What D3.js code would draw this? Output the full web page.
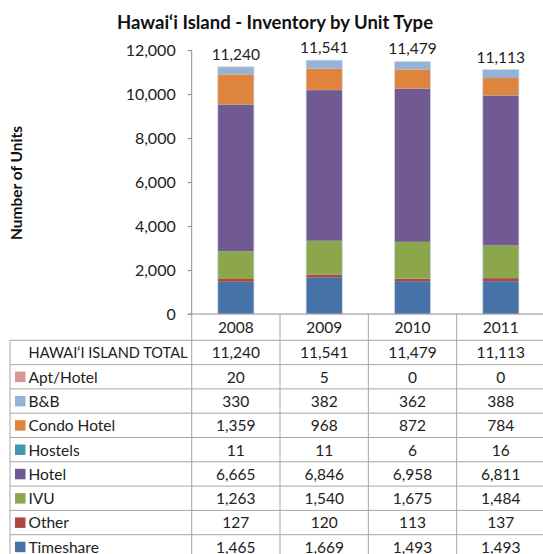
<!DOCTYPE html>
<html>
<head>
<meta charset="utf-8">
<script src="https://cdn.jsdelivr.net/npm/d3@7"></script>
<style>
  body { margin: 0; background: #fff; }
  svg { display: block; font-family: Lato, "Open Sans", sans-serif; }
</style>
</head>
<body>
<svg id="chart" width="543" height="554"></svg>
<script>
// data
var years = ["2008", "2009", "2010", "2011"];
var unitTypes = ["Apt/Hotel", "B&B", "Condo Hotel", "Hostels", "Hotel", "IVU", "Other", "Timeshare"];
var typeColors = ["#D99694", "#95B3D7", "#DE843D", "#4298B1", "#715A91", "#8BA64B", "#B04642", "#4572A7"];
var aptHotel = [20, 5, 0, 0];
var bnb = [330, 382, 362, 388];
var condoHotel = [1359, 968, 872, 784];
var hostels = [11, 11, 6, 16];
var hotel = [6665, 6846, 6958, 6811];
var ivu = [1263, 1540, 1675, 1484];
var other = [127, 120, 113, 137];
var timeshare = [1465, 1669, 1493, 1493];
var totals = [11240, 11541, 11479, 11113];
var yTicks = [0, 2000, 4000, 6000, 8000, 10000, 12000];
var totalLabel = "HAWAI\u2018I ISLAND TOTAL";

var seriesValues = [aptHotel, bnb, condoHotel, hostels, hotel, ivu, other, timeshare];

var svg = d3.select('#chart');
var fmt = d3.format(',');

var plotLeft = 191.7, plotRight = 545, plotTop = 50, plotBottom = 314;
var tableLeft = 10, rowH = 24.3, headerBottom = 340.3;

var x = d3.scaleBand().domain(years).range([plotLeft, plotRight]).padding(0);
var y = d3.scaleLinear().domain([0, 12000]).range([plotBottom, plotTop]);
var color = d3.scaleOrdinal().domain(unitTypes).range(typeColors);

// rows for the stack, one object per year
var rows = years.map(function(yr, i) {
    var r = { year: yr };
    unitTypes.forEach(function(t, k) { r[t] = seriesValues[k][i]; });
    return r;
});

// stacked bottom-up: timeshare first
var stack = d3.stack().keys(unitTypes.slice().reverse());
var layers = stack(rows);

var barW = x.bandwidth() * 0.41;

svg.append('g').selectAll('g')
    .data(layers)
    .enter().append('g')
    .attr('fill', function(d) { return color(d.key); })
    .selectAll('rect')
    .data(function(d) { return d; })
    .enter().append('rect')
    .attr('x', function(d) { return x(d.data.year) + (x.bandwidth() - barW) / 2; })
    .attr('y', function(d) { return y(d[1]); })
    .attr('width', barW)
    .attr('height', function(d) { return y(d[0]) - y(d[1]); });

// faint outline round each bar
svg.append('g').selectAll('rect')
    .data(rows)
    .enter().append('rect')
    .attr('x', function(d) { return x(d.year) + (x.bandwidth() - barW) / 2; })
    .attr('y', function(d, i) { return y(totals[i]); })
    .attr('width', barW)
    .attr('height', function(d, i) { return y(0) - y(totals[i]); })
    .attr('fill', 'none')
    .attr('stroke', '#D6DAEA')
    .attr('stroke-width', 0.8);

// totals above bars
svg.append('g').selectAll('text')
    .data(totals)
    .enter().append('text')
    .attr('x', function(d, i) { return x(years[i]) + x.bandwidth() / 2; })
    .attr('y', function(d) { return y(d) - 7; })
    .attr('text-anchor', 'middle')
    .attr('font-size', 15.5)
    .attr('fill', '#222')
    .text(function(d) { return fmt(d); });

// y axis
var yAxis = d3.axisLeft(y).tickValues(yTicks).tickFormat(fmt).tickSize(4).tickPadding(12);
var gy = svg.append('g').attr('transform', 'translate(' + plotLeft + ',0)').call(yAxis);
gy.select('.domain').attr('stroke', '#8c8c8c').attr('d', 'M0,' + plotTop + 'V' + plotBottom);
gy.selectAll('.tick line').attr('stroke', '#8c8c8c');
gy.selectAll('.tick text').attr('font-size', 16).attr('fill', '#222').attr('font-family', 'Lato, sans-serif');

// baseline
svg.append('line')
    .attr('x1', plotLeft - 4).attr('x2', plotRight)
    .attr('y1', y(0)).attr('y2', y(0))
    .attr('stroke', '#8c8c8c');

// data table
var tableRows = [totalLabel].concat(unitTypes);
var tableData = [totals].concat(seriesValues);
var tableBottom = headerBottom + rowH * tableRows.length;
var grid = svg.append('g').attr('stroke', '#a6a6a6').attr('stroke-width', 1);

// column separators
grid.selectAll('.vcol')
    .data(years.concat(['end']))
    .enter().append('line')
    .attr('x1', function(d, i) { return plotLeft + i * x.bandwidth(); })
    .attr('x2', function(d, i) { return plotLeft + i * x.bandwidth(); })
    .attr('y1', plotBottom).attr('y2', tableBottom);

grid.append('line')
    .attr('x1', tableLeft).attr('x2', tableLeft)
    .attr('y1', headerBottom).attr('y2', tableBottom);

grid.selectAll('.hrow')
    .data(d3.range(tableRows.length + 1))
    .enter().append('line')
    .attr('x1', tableLeft).attr('x2', plotRight)
    .attr('y1', function(d) { return headerBottom + d * rowH; })
    .attr('y2', function(d) { return headerBottom + d * rowH; });

// year headers
svg.append('g').selectAll('text')
    .data(years)
    .enter().append('text')
    .attr('x', function(d) { return x(d) + x.bandwidth() / 2; })
    .attr('y', plotBottom + 18.5)
    .attr('text-anchor', 'middle')
    .attr('font-size', 15.5)
    .attr('fill', '#222')
    .text(function(d) { return d; });

// row labels with swatches
var rowG = svg.append('g').selectAll('g')
    .data(tableRows)
    .enter().append('g')
    .attr('transform', function(d, i) { return 'translate(0,' + (headerBottom + i * rowH) + ')'; });

rowG.filter(function(d, i) { return i > 0; })
    .append('rect')
    .attr('x', 15).attr('y', 7)
    .attr('width', 10.5).attr('height', 10.5)
    .attr('fill', function(d) { return color(d); });

rowG.append('text')
    .attr('x', 28.5)
    .attr('y', 18)
    .attr('font-size', 15.5)
    .attr('fill', '#222')
    .attr('textLength', function(d, i) { return i === 0 ? 159 : null; })
    .attr('lengthAdjust', 'spacingAndGlyphs')
    .text(function(d) { return d; });

// cell values
rowG.each(function(d, i) {
    d3.select(this).selectAll('.val')
        .data(tableData[i])
        .enter().append('text')
        .attr('x', function(v, j) { return x(years[j]) + x.bandwidth() / 2; })
        .attr('y', 18)
        .attr('text-anchor', 'middle')
        .attr('font-size', 15.5)
        .attr('fill', '#222')
        .text(function(v) { return fmt(v); });
});

// titles
svg.append('text')
    .attr('x', 275).attr('y', 29)
    .attr('text-anchor', 'middle')
    .attr('font-size', 18.5)
    .attr('font-weight', 'bold')
    .attr('fill', '#111')
    .text('Hawai\u2018i Island - Inventory by Unit Type');

svg.append('text')
    .attr('transform', 'translate(22,183) rotate(-90)')
    .attr('text-anchor', 'middle')
    .attr('font-size', 15.5)
    .attr('font-weight', 'bold')
    .attr('fill', '#111')
    .text('Number of Units');
</script>
</body>
</html>
